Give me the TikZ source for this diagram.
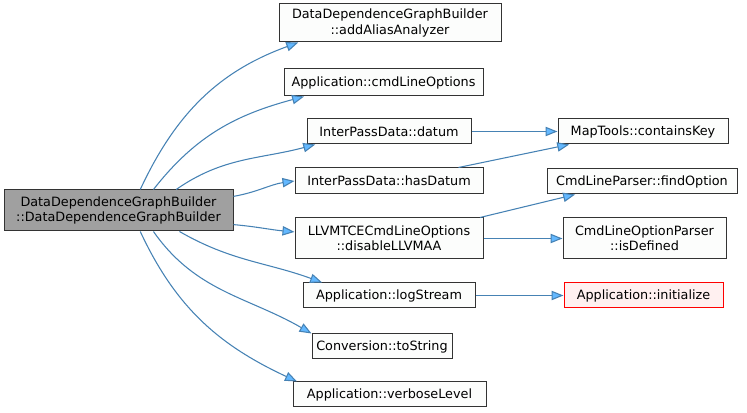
\documentclass[tikz,border=0pt]{standalone}
\usepackage{fontspec}
\setmainfont{DejaVu Sans}
\usetikzlibrary{arrows.meta}
\definecolor{edgeline}{HTML}{4682B4}
\definecolor{edgehead}{HTML}{63B8FF}
\definecolor{rootfill}{HTML}{A0A0A0}
\definecolor{leaffill}{HTML}{FCFDFC}
\definecolor{warnfill}{HTML}{FFF0F0}

\begin{document}
\begin{tikzpicture}[
    x=0.75pt, y=-0.75pt,
    fn/.style={draw=black!80, line width=0.75pt, fill=leaffill, inner sep=0pt, align=center, font=\fontsize{9.6}{11.5}\selectfont},
    root/.style={fn, fill=rootfill},
    undoc/.style={fn, draw=red, fill=warnfill},
    arr/.style={-{Triangle[length=9pt, width=7pt, fill=edgehead]}, edgeline, line width=0.8pt}
]
\useasboundingbox (0,0) rectangle (747,413);

\node[root, minimum width=171.75pt, minimum height=30.75pt] (ddgb) at (118.5,210.5) {DataDependenceGraphBuilder\\::DataDependenceGraphBuilder};

\node[fn, minimum width=166.5pt, minimum height=28.5pt] (alias) at (390,23) {DataDependenceGraphBuilder\\::addAliasAnalyzer};
\node[fn, minimum width=149.25pt, minimum height=20.25pt] (cmdopt) at (383.5,82.5) {Application::cmdLineOptions};
\node[fn, minimum width=123pt, minimum height=18.75pt] (datum) at (389,131.5) {InterPassData::datum};
\node[fn, minimum width=141pt, minimum height=19.5pt] (hasdatum) at (389,181) {InterPassData::hasDatum};
\node[fn, minimum width=141pt, minimum height=30.75pt] (disable) at (389,238.5) {LLVMTCECmdLineOptions\\::disableLLVMAA};
\node[fn, minimum width=129pt, minimum height=18.75pt] (logstr) at (389,295.5) {Application::logStream};
\node[fn, minimum width=105pt, minimum height=18.75pt] (tostr) at (382,346.5) {Conversion::toString};
\node[fn, minimum width=144.75pt, minimum height=18.75pt] (verbose) at (389.5,394.5) {Application::verboseLevel};

\node[fn, minimum width=127.5pt, minimum height=18.75pt] (haskey) at (643,131.5) {MapTools::containsKey};
\node[fn, minimum width=142.5pt, minimum height=18.75pt] (findopt) at (642,181.5) {CmdLineParser::findOption};
\node[fn, minimum width=122.25pt, minimum height=30.75pt] (isdef) at (644.5,238.5) {CmdLineOptionParser\\::isDefined};
\node[undoc, minimum width=119.25pt, minimum height=18.75pt] (appinit) at (643.5,295.5) {Application::initialize};

% calls from the constructor
\draw[arr] (ddgb.44) to[out=65, in=200] (alias.192);
\draw[arr] (ddgb.31) to[out=52, in=195] (cmdopt.190);
\draw[arr] (ddgb.20) to[out=35, in=195] (datum.190);
\draw[arr] (ddgb.7) to[out=10, in=188] (hasdatum.west);
\draw[arr] (ddgb.-7) to[out=-5, in=175] (disable.176);
\draw[arr] (ddgb.-19) to[out=-30, in=160] (logstr.169);
\draw[arr] (ddgb.-31) to[out=-55, in=150] (tostr.north west);
\draw[arr] (ddgb.-44) to[out=-65, in=155] (verbose.172);

% second level
\draw[arr] (datum) -- (haskey);
\draw[arr] (hasdatum.11) -- (haskey.190);
\draw[arr] (disable.13) -- (findopt.191);
\draw[arr] (disable) -- (isdef);
\draw[arr] (logstr) -- (appinit);
\end{tikzpicture}
\end{document}
